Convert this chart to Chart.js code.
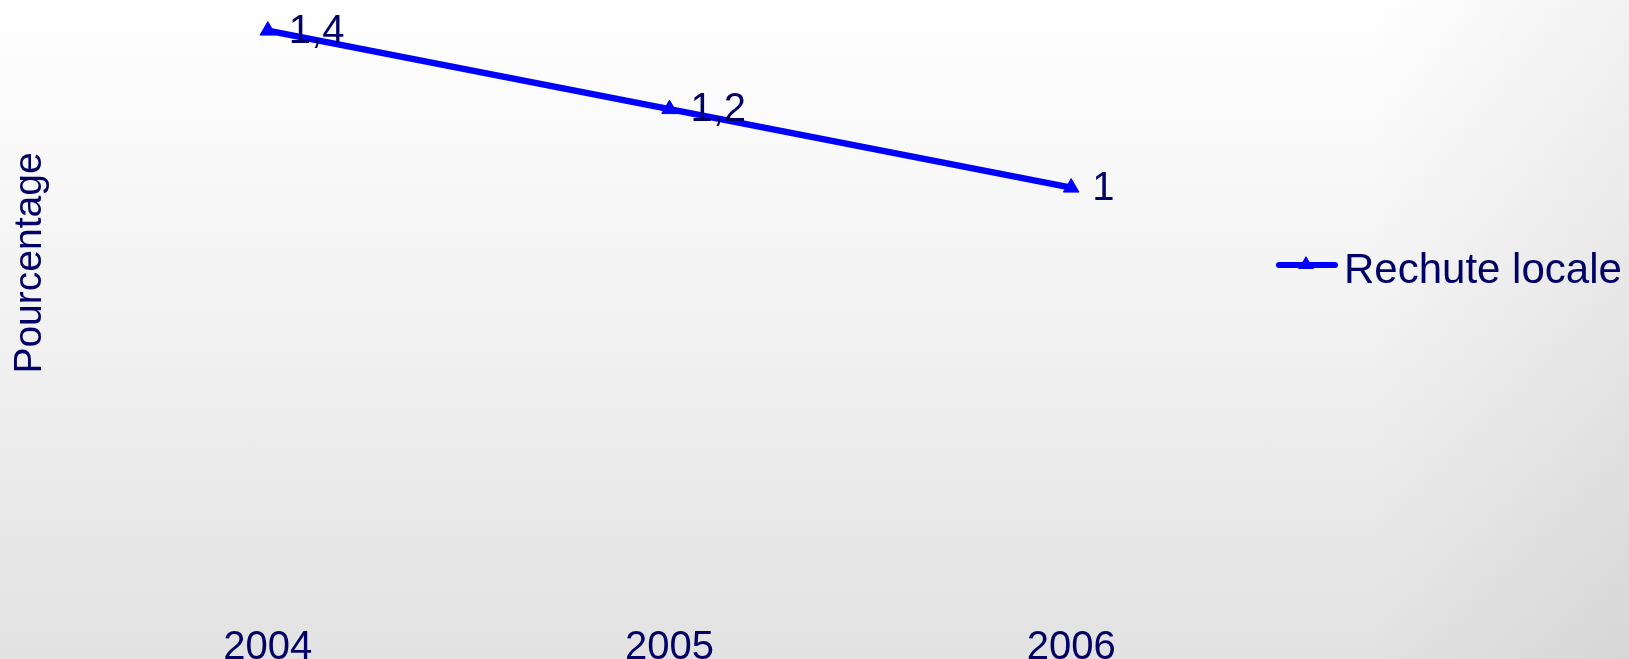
<!DOCTYPE html>
<html>
<head>
<meta charset="utf-8">
<script src="https://cdn.jsdelivr.net/npm/chart.js@4/dist/chart.umd.min.js"></script>
<style>
  html, body { margin: 0; padding: 0; }
  #fundo {
    width: 1629px;
    height: 659px;
    position: relative;
    background:
      linear-gradient(to right, rgba(0,0,0,0) 0%, rgba(0,0,0,0) 84%, rgba(0,0,0,0.05) 100%),
      linear-gradient(to bottom, #ffffff 0%, #f3f3f3 45%, #e2e2e2 100%);
  }
</style>
</head>
<body>
<div id="fundo">
  <canvas id="graficoRechute" width="1629" height="659"></canvas>
</div>
<script>
var anos = ["2004", "2005", "2006"];
var rechuteLocale = [1.4, 1.2, 1.0];
var rotulosValores = ["1,4", "1,2", "1"];
var nomeSerie = "Rechute locale";
var tituloEixoY = "Pourcentage";

var COR_TEXTO = "#000066";
var COR_LINHA = "#0000ff";
var FONTE = "'Liberation Sans', Arial, sans-serif";

// ---------- PLUGINS ----------

// rotulos de valor ao lado de cada ponto
var pluginRotulos = {
  id: "rotulos",
  afterDatasetsDraw: function (chart) {
    var ctx = chart.ctx;
    var meta = chart.getDatasetMeta(0);
    ctx.save();
    ctx.font = "40px " + FONTE;
    ctx.fillStyle = COR_TEXTO;
    ctx.textAlign = "left";
    ctx.textBaseline = "middle";
    for (var i = 0; i < meta.data.length; i++) {
      var ponto = meta.data[i];
      ctx.fillText(rotulosValores[i], ponto.x + 21, ponto.y + 1);
    }
    ctx.restore();
  }
};

// titulo do eixo y e legenda desenhados a mao
var pluginTextos = {
  id: "textos",
  afterDraw: function (chart) {
    var ctx = chart.ctx;
    ctx.save();
    ctx.font = "39px " + FONTE;
    ctx.fillStyle = COR_TEXTO;

    ctx.translate(30, 263);
    ctx.rotate(-Math.PI / 2);
    ctx.textAlign = "center";
    ctx.textBaseline = "middle";
    ctx.fillText(tituloEixoY, 0, 0);
    ctx.restore();

    // legenda
    ctx.save();
    var yLeg = 265;
    ctx.strokeStyle = COR_LINHA;
    ctx.lineWidth = 6;
    ctx.lineCap = "round";
    ctx.beginPath();
    ctx.moveTo(1279, yLeg);
    ctx.lineTo(1335, yLeg);
    ctx.stroke();
    ctx.fillStyle = COR_LINHA;
    ctx.beginPath();
    ctx.moveTo(1306, yLeg - 9);
    ctx.lineTo(1314, yLeg + 4);
    ctx.lineTo(1298, yLeg + 4);
    ctx.closePath();
    ctx.fill();

    ctx.font = "42px " + FONTE;
    ctx.fillStyle = COR_TEXTO;
    ctx.textAlign = "left";
    ctx.textBaseline = "middle";
    ctx.fillText(chart.data.datasets[0].label, 1344, 271);
    ctx.restore();
  }
};

// ---------- GRAFICO ----------

var ctx = document.getElementById("graficoRechute");

var grafico = new Chart(ctx, {
  type: "line",
  data: {
    labels: anos,
    datasets: [
      {
        label: nomeSerie,
        data: rechuteLocale,
        borderColor: COR_LINHA,
        backgroundColor: COR_LINHA,
        borderWidth: 6.5,
        pointStyle: "triangle",
        pointRadius: 9,
        pointBackgroundColor: COR_LINHA,
        pointBorderColor: COR_LINHA,
        pointBorderWidth: 1,
        tension: 0,
      },
    ],
  },
  options: {
    responsive: false,
    animation: false,
    layout: {
      padding: { left: 67, right: 357, top: 11, bottom: 0 },
    },
    plugins: {
      legend: { display: false },
      tooltip: { enabled: false },
    },
    scales: {
      x: {
        offset: true,
        grid: { display: false },
        border: { display: false },
        ticks: {
          color: COR_TEXTO,
          font: { size: 40, family: FONTE },
          padding: 36,
          maxRotation: 0,
        },
        afterFit: function (scale) {
          scale.height = 79;
        },
      },
      y: {
        display: false,
        min: 0,
        max: 1.45,
      },
    },
  },
  plugins: [pluginRotulos, pluginTextos],
});
</script>
</body>
</html>
